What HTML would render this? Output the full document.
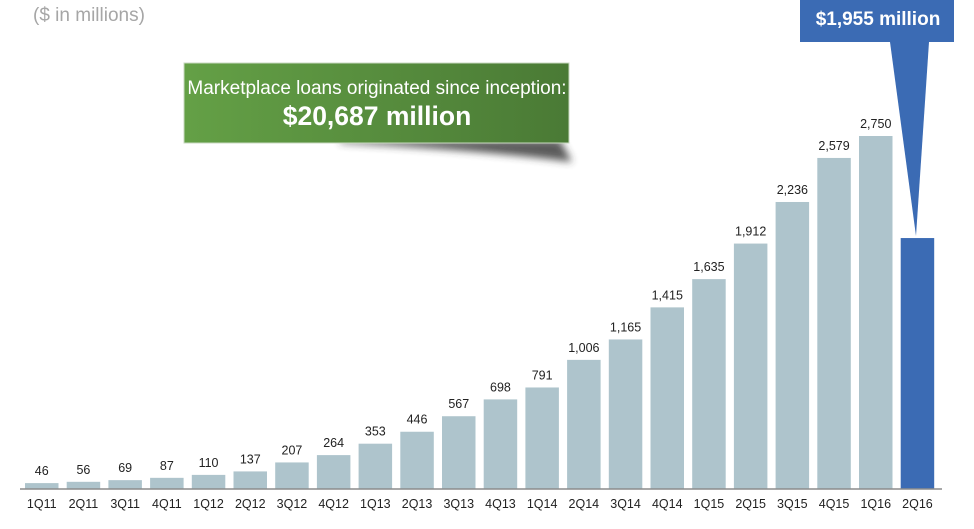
<!DOCTYPE html>
<html><head><meta charset="utf-8"><style>
body{margin:0;background:#fff;width:974px;height:524px;overflow:hidden;font-family:"Liberation Sans",Arial,sans-serif}
</style></head><body>
<svg width="974" height="524" id="chart" font-family="Liberation Sans, Arial, sans-serif">
<defs>
<linearGradient id="g" x1="0" x2="1"><stop offset="0" stop-color="#64a046"/><stop offset="1" stop-color="#4a7a35"/></linearGradient>
<filter id="sh" x="-20%" y="-50%" width="140%" height="200%"><feGaussianBlur stdDeviation="4"/></filter>
</defs>
<text x="33" y="21" font-size="19" fill="#a6a6a6">($ in millions)</text>
<path d="M340 140 L560 140 L572 162 Q480 150 340 143 Z" fill="#333" opacity="0.8" filter="url(#sh)"/>
<rect x="184" y="63" width="385" height="80" fill="url(#g)" stroke="#c8d8c0" stroke-width="1"/>
<text x="377" y="94" font-size="19" fill="#fff" text-anchor="middle">Marketplace loans originated since inception:</text>
<text x="377" y="125" font-size="26.5" font-weight="bold" fill="#fff" text-anchor="middle">$20,687 million</text>
<g id="bars"></g>
<line x1="20" y1="489" x2="942" y2="489" stroke="#8c8c8c" stroke-width="1.5"/>
<polygon points="890,42 929,42 916,236" fill="#3b6bb4"/>
<rect x="800" y="0" width="154" height="42" fill="#3b6bb4"/>
<text x="878" y="25" font-size="19" font-weight="bold" fill="#fff" text-anchor="middle">$1,955 million</text>
</svg>
<script>
const categories=["1Q11","2Q11","3Q11","4Q11","1Q12","2Q12","3Q12","4Q12","1Q13","2Q13","3Q13","4Q13","1Q14","2Q14","3Q14","4Q14","1Q15","2Q15","3Q15","4Q15","1Q16","2Q16"];
const values=[46,56,69,87,110,137,207,264,353,446,567,698,791,1006,1165,1415,1635,1912,2236,2579,2750,1955];
const valueLabels=["46","56","69","87","110","137","207","264","353","446","567","698","791","1,006","1,165","1,415","1,635","1,912","2,236","2,579","2,750",""];
const base=489,scale=(489-136)/2750,x0=25,pitch=41.7,bw=33.5;
const xs=i=>x0+i*pitch, ys=v=>base-v*scale;
const g=document.getElementById('bars'),NS="http://www.w3.org/2000/svg";
categories.forEach((c,i)=>{
 const r=document.createElementNS(NS,'rect');
 r.setAttribute('x',xs(i));r.setAttribute('y',ys(values[i]));r.setAttribute('width',bw);r.setAttribute('height',base-ys(values[i]));
 r.setAttribute('fill',i===categories.length-1?'#3b6bb4':'#aec4cc');
 
 
 g.appendChild(r);
 const t=document.createElementNS(NS,'text');
 t.setAttribute('x',xs(i)+bw/2);t.setAttribute('y',508);t.setAttribute('font-size','12.5');t.setAttribute('fill','#222');t.setAttribute('text-anchor','middle');
 t.textContent=c;
 
 
 g.appendChild(t);
 if(valueLabels[i]){
 const l=document.createElementNS(NS,'text');
 l.setAttribute('x',xs(i)+bw/2);l.setAttribute('y',ys(values[i])-8);l.setAttribute('font-size','12.5');l.setAttribute('fill','#222');l.setAttribute('text-anchor','middle');
 l.textContent=valueLabels[i];
 
 
 g.appendChild(l);}
});
</script>
</body></html>
